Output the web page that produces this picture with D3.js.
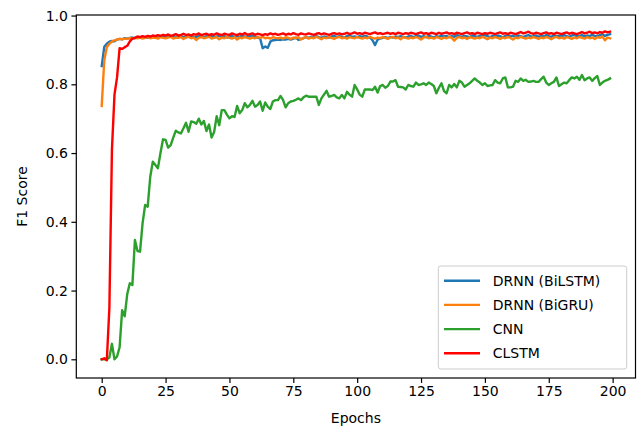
<!DOCTYPE html>
<html>
<head>
<meta charset="utf-8">
<script src="https://cdn.jsdelivr.net/npm/d3@7"></script>
<style>
    body { margin: 0; background: #fff; }
    text { font-family: "DejaVu Sans", sans-serif; }
</style>
</head>
<body>
<div id="chart"></div>
<script>
// series, one value per epoch (0..199)
var bilstm = [
    0.853, 0.909, 0.918, 0.924, 0.926, 0.925, 0.930, 0.932, 0.931, 0.934,
    0.933, 0.935, 0.936, 0.934, 0.937, 0.935, 0.938, 0.936, 0.935, 0.938,
    0.937, 0.939, 0.936, 0.938, 0.940, 0.937, 0.939, 0.938, 0.941, 0.937,
    0.939, 0.940, 0.938, 0.936, 0.940, 0.942, 0.938, 0.937, 0.941, 0.939,
    0.936, 0.940, 0.938, 0.942, 0.937, 0.939, 0.941, 0.938, 0.940, 0.936,
    0.939, 0.941, 0.937, 0.940, 0.938, 0.942, 0.939, 0.937, 0.940, 0.941,
    0.938, 0.936, 0.934, 0.905, 0.910, 0.906, 0.924, 0.928, 0.929, 0.930,
    0.929, 0.931, 0.930, 0.932, 0.930, 0.933, 0.936, 0.929, 0.932, 0.934,
    0.937, 0.935, 0.938, 0.936, 0.940, 0.937, 0.935, 0.939, 0.938, 0.936,
    0.939, 0.941, 0.937, 0.940, 0.938, 0.936, 0.940, 0.942, 0.938, 0.939,
    0.937, 0.940, 0.938, 0.941, 0.939, 0.936, 0.928, 0.914, 0.930, 0.933,
    0.935, 0.937, 0.934, 0.938, 0.936, 0.939, 0.937, 0.940, 0.938, 0.936,
    0.939, 0.941, 0.937, 0.940, 0.942, 0.938, 0.940, 0.937, 0.941, 0.939,
    0.936, 0.940, 0.938, 0.942, 0.939, 0.941, 0.937, 0.940, 0.938, 0.943,
    0.940, 0.938, 0.941, 0.939, 0.937, 0.942, 0.940, 0.938, 0.941, 0.939,
    0.943, 0.940, 0.937, 0.941, 0.939, 0.942, 0.940, 0.936, 0.941, 0.943,
    0.939, 0.941, 0.938, 0.942, 0.940, 0.937, 0.941, 0.943, 0.939, 0.940,
    0.942, 0.938, 0.941, 0.939, 0.943, 0.940, 0.938, 0.942, 0.940, 0.941,
    0.939, 0.943, 0.940, 0.938, 0.942, 0.944, 0.940, 0.941, 0.943, 0.939,
    0.942, 0.940, 0.944, 0.941, 0.939, 0.943, 0.945, 0.941, 0.944, 0.946
];
var bigru = [
    0.737, 0.870, 0.908, 0.918, 0.924, 0.928, 0.930, 0.932, 0.931, 0.933,
    0.932, 0.934, 0.933, 0.935, 0.934, 0.936, 0.933, 0.935, 0.937, 0.934,
    0.936, 0.935, 0.933, 0.937, 0.935, 0.934, 0.936, 0.938, 0.933, 0.936,
    0.935, 0.937, 0.932, 0.936, 0.938, 0.934, 0.936, 0.929, 0.935, 0.937,
    0.934, 0.936, 0.938, 0.933, 0.935, 0.937, 0.931, 0.936, 0.934, 0.937,
    0.935, 0.933, 0.937, 0.930, 0.936, 0.934, 0.937, 0.935, 0.933, 0.936,
    0.934, 0.937, 0.935, 0.938, 0.934, 0.936, 0.933, 0.937, 0.935, 0.934,
    0.936, 0.933, 0.937, 0.935, 0.932, 0.936, 0.934, 0.937, 0.930, 0.935,
    0.937, 0.933, 0.936, 0.934, 0.938, 0.935, 0.931, 0.936, 0.934, 0.937,
    0.935, 0.932, 0.936, 0.938, 0.934, 0.936, 0.933, 0.937, 0.935, 0.934,
    0.937, 0.935, 0.933, 0.936, 0.934, 0.938, 0.935, 0.933, 0.936, 0.934,
    0.937, 0.935, 0.932, 0.936, 0.938, 0.934, 0.936, 0.931, 0.937, 0.935,
    0.933, 0.936, 0.934, 0.937, 0.935, 0.930, 0.936, 0.938, 0.934, 0.936,
    0.933, 0.937, 0.935, 0.932, 0.936, 0.934, 0.938, 0.935, 0.927, 0.935,
    0.937, 0.934, 0.936, 0.932, 0.937, 0.935, 0.933, 0.936, 0.934, 0.938,
    0.935, 0.931, 0.936, 0.934, 0.937, 0.935, 0.932, 0.936, 0.934, 0.937,
    0.935, 0.930, 0.936, 0.934, 0.938, 0.935, 0.933, 0.936, 0.934, 0.937,
    0.935, 0.932, 0.936, 0.934, 0.937, 0.935, 0.931, 0.936, 0.938, 0.934,
    0.936, 0.933, 0.937, 0.935, 0.932, 0.936, 0.934, 0.938, 0.935, 0.933,
    0.937, 0.934, 0.936, 0.932, 0.937, 0.935, 0.939, 0.928, 0.936, 0.934
];
var cnn = [
    0.000, 0.000, 0.000, 0.005, 0.045, 0.000, 0.008, 0.035, 0.143, 0.125,
    0.190, 0.221, 0.216, 0.347, 0.315, 0.313, 0.396, 0.449, 0.444, 0.531,
    0.575, 0.565, 0.556, 0.600, 0.640, 0.638, 0.616, 0.623, 0.645, 0.665,
    0.660, 0.657, 0.672, 0.688, 0.662, 0.692, 0.690, 0.685, 0.700, 0.683,
    0.693, 0.664, 0.683, 0.645, 0.661, 0.707, 0.681, 0.725, 0.725, 0.712,
    0.701, 0.707, 0.705, 0.737, 0.716, 0.725, 0.745, 0.733, 0.740, 0.752,
    0.735, 0.740, 0.750, 0.723, 0.747, 0.735, 0.728, 0.750, 0.754, 0.754,
    0.766, 0.754, 0.733, 0.745, 0.750, 0.752, 0.755, 0.759, 0.754, 0.762,
    0.767, 0.764, 0.764, 0.764, 0.764, 0.740, 0.759, 0.770, 0.781, 0.764,
    0.766, 0.769, 0.762, 0.759, 0.769, 0.759, 0.778, 0.770, 0.764, 0.798,
    0.785, 0.770, 0.764, 0.785, 0.785, 0.785, 0.783, 0.793, 0.776, 0.795,
    0.798, 0.790, 0.795, 0.808, 0.808, 0.812, 0.793, 0.792, 0.791, 0.785,
    0.798, 0.795, 0.793, 0.805, 0.798, 0.800, 0.803, 0.798, 0.805, 0.801,
    0.795, 0.774, 0.790, 0.803, 0.780, 0.774, 0.798, 0.791, 0.801, 0.791,
    0.810, 0.805, 0.793, 0.798, 0.803, 0.810, 0.817, 0.810, 0.805, 0.798,
    0.803, 0.795, 0.797, 0.798, 0.812, 0.805, 0.803, 0.817, 0.820, 0.791,
    0.791, 0.793, 0.810, 0.807, 0.817, 0.810, 0.813, 0.807, 0.808, 0.810,
    0.807, 0.807, 0.815, 0.822, 0.805, 0.798, 0.803, 0.807, 0.820, 0.795,
    0.800, 0.805, 0.803, 0.812, 0.820, 0.817, 0.822, 0.813, 0.827, 0.812,
    0.817, 0.820, 0.810, 0.818, 0.824, 0.798, 0.805, 0.810, 0.813, 0.817
];
var clstm = [
    0.000, 0.003, -0.003, 0.150, 0.610, 0.770, 0.820, 0.905, 0.903, 0.908,
    0.912, 0.925, 0.933, 0.935, 0.939, 0.937, 0.940, 0.938, 0.941, 0.939,
    0.942, 0.940, 0.943, 0.941, 0.944, 0.942, 0.945, 0.941, 0.943, 0.946,
    0.942, 0.944, 0.947, 0.943, 0.945, 0.942, 0.946, 0.944, 0.948, 0.943,
    0.945, 0.947, 0.943, 0.946, 0.944, 0.948, 0.945, 0.943, 0.947, 0.945,
    0.944, 0.948, 0.945, 0.943, 0.947, 0.945, 0.949, 0.944, 0.946, 0.948,
    0.944, 0.947, 0.945, 0.943, 0.946, 0.944, 0.948, 0.945, 0.947, 0.944,
    0.946, 0.948, 0.944, 0.947, 0.945, 0.949, 0.946, 0.944, 0.948, 0.946,
    0.945, 0.948, 0.946, 0.944, 0.947, 0.949, 0.945, 0.948, 0.946, 0.944,
    0.947, 0.949, 0.946, 0.948, 0.945, 0.947, 0.950, 0.946, 0.948, 0.951,
    0.947, 0.949, 0.946, 0.950, 0.948, 0.946, 0.949, 0.951, 0.947, 0.949,
    0.946, 0.948, 0.950, 0.947, 0.949, 0.946, 0.950, 0.948, 0.946, 0.949,
    0.947, 0.950, 0.948, 0.946, 0.949, 0.951, 0.947, 0.949, 0.946, 0.950,
    0.948, 0.946, 0.950, 0.947, 0.949, 0.951, 0.947, 0.949, 0.946, 0.950,
    0.948, 0.946, 0.949, 0.951, 0.947, 0.949, 0.946, 0.950, 0.948, 0.946,
    0.949, 0.947, 0.950, 0.948, 0.946, 0.949, 0.951, 0.947, 0.949, 0.946,
    0.950, 0.948, 0.946, 0.949, 0.952, 0.948, 0.950, 0.953, 0.949, 0.947,
    0.950, 0.948, 0.946, 0.949, 0.951, 0.947, 0.949, 0.946, 0.950, 0.948,
    0.946, 0.949, 0.951, 0.947, 0.950, 0.948, 0.946, 0.949, 0.952, 0.948,
    0.950, 0.953, 0.949, 0.951, 0.948, 0.952, 0.950, 0.954, 0.951, 0.953
];

var seriesNames = ["DRNN (BiLSTM)", "DRNN (BiGRU)", "CNN", "CLSTM"];
var seriesColors = ["#1f77b4", "#ff7f0e", "#2ca02c", "#ff0000"];
var xTicks = [0, 25, 50, 75, 100, 125, 150, 175, 200];
var yTicks = [0.0, 0.2, 0.4, 0.6, 0.8, 1.0];

var svgWidth = 638;
var svgHeight = 429;
var svg = d3.select('#chart').append('svg')
    .attr("width", svgWidth)
    .attr("height", svgHeight);

// axes box in pixels, data limits with matplotlib-like margins
var x = d3.scaleLinear().domain([-9.95, 208.95]).range([76.3, 635.5]);
var y = d3.scaleLinear().domain([-0.0544, 1.0016]).range([378, 15]);

var series = [bilstm, bigru, cnn, clstm];

var line = d3.line()
    .x(function(d, i) { return x(i); })
    .y(function(d) { return y(d); });

var plot = svg.append('g');
for (var i = 0; i < series.length; i++) {
    plot.append('path')
        .datum(series[i])
        .attr('d', line)
        .style('fill', 'none')
        .style('stroke', seriesColors[i])
        .style('stroke-width', 2.4)
        .style('stroke-linejoin', 'round')
        .style('stroke-linecap', 'square');
}

// axes
var xAxis = d3.axisBottom(x).tickValues(xTicks).tickSize(4.9).tickPadding(3.5)
    .tickFormat(d3.format('d'));
var yAxis = d3.axisLeft(y).tickValues(yTicks).tickSize(4.9).tickPadding(3.5)
    .tickFormat(d3.format('.1f'));

var gx = svg.append('g').attr('transform', 'translate(0,378)').call(xAxis);
var gy = svg.append('g').attr('transform', 'translate(76.3,0)').call(yAxis);
[gx, gy].forEach(function(g) {
    g.select('.domain').remove();
    g.selectAll('line').style('stroke', '#000').style('stroke-width', 1.2);
    g.selectAll('text').style('font-size', '14px').style('fill', '#000')
        .style('font-family', '"DejaVu Sans", sans-serif');
});

// frame
svg.append('rect')
    .attr('x', 76.3).attr('y', 15)
    .attr('width', 635.5 - 76.3).attr('height', 378 - 15)
    .style('fill', 'none').style('stroke', '#000').style('stroke-width', 1.2);

// axis titles
svg.append('text')
    .attr('x', (76.3 + 635.5) / 2).attr('y', 423)
    .attr('text-anchor', 'middle')
    .style('font-size', '14px')
    .text('Epochs');
svg.append('text')
    .attr('transform', 'translate(27,196.5) rotate(-90)')
    .attr('text-anchor', 'middle')
    .style('font-size', '14px')
    .text('F1 Score');

// legend
var legend = svg.append('g');
legend.append('rect')
    .attr('x', 438.3).attr('y', 266)
    .attr('width', 188.4).attr('height', 103)
    .attr('rx', 2.5)
    .style('fill', '#fff').style('fill-opacity', 0.8)
    .style('stroke', '#cccccc').style('stroke-width', 1);
for (var j = 0; j < seriesNames.length; j++) {
    var ly = 280.7 + j * 24.2;
    legend.append('line')
        .attr('x1', 444).attr('x2', 480)
        .attr('y1', ly).attr('y2', ly)
        .style('stroke', seriesColors[j])
        .style('stroke-width', 2.4);
    legend.append('text')
        .attr('x', 492.7).attr('y', ly)
        .attr('dy', '0.35em')
        .style('font-size', '14px')
        .text(seriesNames[j]);
}
</script>
</body>
</html>
